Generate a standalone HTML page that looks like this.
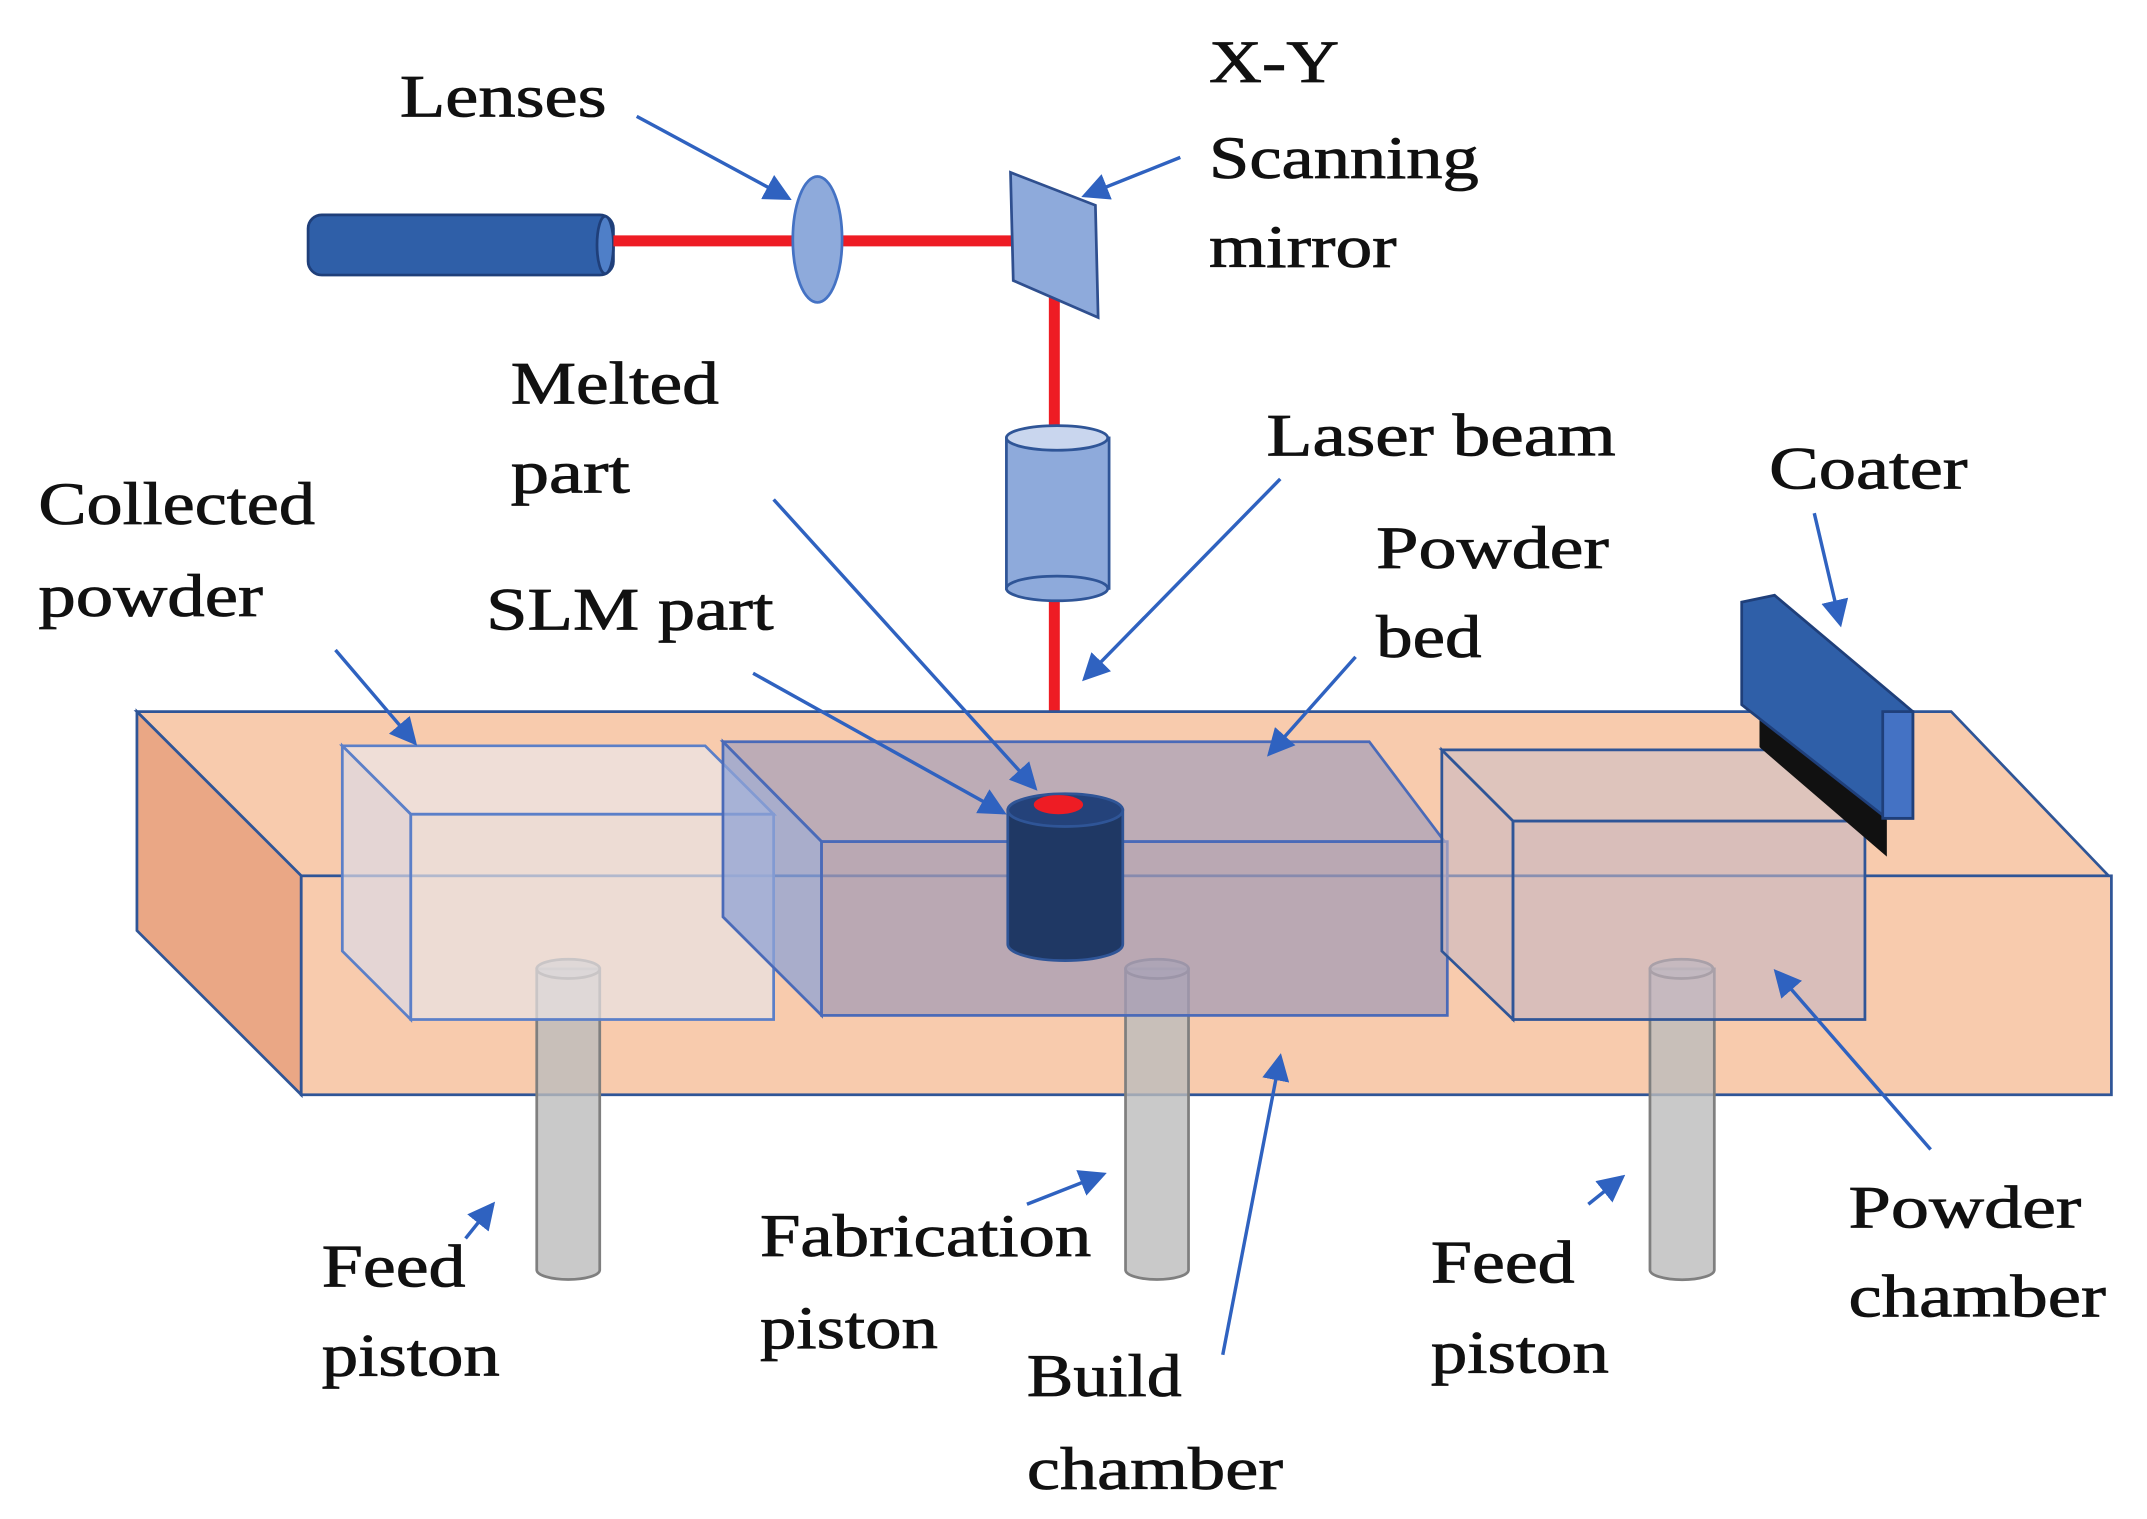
<!DOCTYPE html>
<html><head><meta charset="utf-8"><style>
html,body{margin:0;padding:0;background:#fff;}
svg{display:block;}
text{font-family:"Liberation Serif",serif;font-size:44px;fill:#111;stroke:#111;stroke-width:0.6;}
</style></head><body>
<svg width="2147" height="1519" viewBox="0 0 1568 1110" preserveAspectRatio="none" xmlns="http://www.w3.org/2000/svg">
<defs>
<marker id="ah" markerWidth="8" markerHeight="8" refX="7" refY="4" orient="auto" markerUnits="strokeWidth">
<path d="M0,0 L8,4 L0,8 z" fill="#2f62c0"/></marker>
</defs>
<rect x="225" y="157" width="223" height="44" rx="10" fill="#2f5fa8" stroke="#1f3f7a" stroke-width="2"/>
<ellipse cx="442" cy="179" rx="6" ry="21" fill="#4f7fc8" stroke="#1f3f7a" stroke-width="2"/>
<line x1="448" y1="176" x2="742" y2="176" stroke="#ee1c24" stroke-width="8"/>
<ellipse cx="597" cy="175" rx="18" ry="46" fill="#8eaadb" stroke="#4472c4" stroke-width="2"/>
<line x1="770" y1="176" x2="770" y2="590" stroke="#ee1c24" stroke-width="8"/>
<polygon points="738,126 800,150 802,232 740,205" fill="#8eaadb" stroke="#2f4f8f" stroke-width="2"/>
<rect x="735" y="320" width="75" height="110" fill="#8eaadb" stroke="#2f5597" stroke-width="2"/>
<ellipse cx="772" cy="430" rx="37" ry="9" fill="#8eaadb" stroke="#2f5597" stroke-width="2"/>
<ellipse cx="772" cy="320" rx="37" ry="9" fill="#c9d6ee" stroke="#2f5597" stroke-width="2"/>
<polygon points="100,520 1425,520 1540,640 220,640" fill="#f8cbad" stroke="#2f5597" stroke-width="2"/>
<polygon points="100,520 220,640 220,800 100,680" fill="#eaa785" stroke="#2f5597" stroke-width="2"/>
<rect x="220" y="640" width="1322" height="160" fill="#f8cbad" stroke="#2f5597" stroke-width="2"/>
<g fill="#bcbcbc" fill-opacity="0.8" stroke="#7f7f7f" stroke-width="2">
<path d="M392,708 L392,928 A23,7 0 0 0 438,928 L438,708 z"/><ellipse cx="415" cy="708" rx="23" ry="7"/>
<path d="M822,708 L822,928 A23,7 0 0 0 868,928 L868,708 z"/><ellipse cx="845" cy="708" rx="23" ry="7"/>
<path d="M1205,708 L1205,928 A23,7 0 0 0 1252,928 L1252,708 z"/><ellipse cx="1228" cy="708" rx="23" ry="7"/>
</g>
<g stroke="#5b7fc8" stroke-width="2" fill-opacity="0.7">
<polygon points="250,545 515,545 565,595 300,595" fill="#ebe6e8"/>
<polygon points="250,545 300,595 300,745 250,695" fill="#dcd8e4"/>
<rect x="300" y="595" width="265" height="150" fill="#e8e2e4"/>
</g>
<g stroke="#4a6ab8" stroke-width="2" fill-opacity="0.75">
<polygon points="528,542 1000,542 1055,615 600,615" fill="#aaa2ba"/>
<polygon points="528,542 600,615 600,742 528,670" fill="#8fa3d6"/>
<rect x="600" y="615" width="457" height="127" fill="#a59cb6"/>
</g>
<g stroke="#2f5597" stroke-width="2" fill-opacity="0.6">
<polygon points="1053,548 1310,548 1362,600 1105,600" fill="#cdbfc6"/>
<polygon points="1053,548 1105,600 1105,745 1053,695" fill="#c9b9c3"/>
<rect x="1105" y="600" width="257" height="145" fill="#c4b6c3"/>
</g>
<polygon points="1285,518 1378,598 1378,626 1285,546" fill="#111"/>
<polygon points="1272,440 1296,435 1397,520 1397,598 1378,598 1272,515" fill="#2f5fa8" stroke="#1f3f7a" stroke-width="2"/>
<rect x="1375" y="520" width="22" height="78" fill="#4472c4" stroke="#1f3f7a" stroke-width="2"/>
<path d="M736,592 L736,690 A42,12 0 0 0 820,690 L820,592 z" fill="#1f3864" stroke="#2f5597" stroke-width="2"/>
<ellipse cx="778" cy="592" rx="42" ry="12" fill="#24427a" stroke="#2f5597" stroke-width="2"/>
<ellipse cx="773" cy="588" rx="18" ry="7" fill="#ee1c24"/>
<g stroke="#2f62c0" stroke-width="2.5" marker-end="url(#ah)" fill="none">
<line x1="465" y1="85" x2="576" y2="145"/>
<line x1="862" y1="115" x2="792" y2="143"/>
<line x1="565" y1="365" x2="756" y2="576"/>
<line x1="935" y1="350" x2="792" y2="496"/>
<line x1="1325" y1="375" x2="1344" y2="456"/>
<line x1="245" y1="475" x2="303" y2="543"/>
<line x1="550" y1="492" x2="733" y2="594"/>
<line x1="990" y1="480" x2="927" y2="551"/>
<line x1="340" y1="905" x2="360" y2="880"/>
<line x1="750" y1="880" x2="806" y2="858"/>
<line x1="893" y1="990" x2="935" y2="772"/>
<line x1="1160" y1="880" x2="1185" y2="860"/>
<line x1="1410" y1="840" x2="1297" y2="710"/>
</g>
<g>
<text x="292" y="85" textLength="151" lengthAdjust="spacingAndGlyphs">Lenses</text>
<text x="883" y="60" textLength="95" lengthAdjust="spacingAndGlyphs">X-Y</text>
<text x="883" y="130" textLength="197" lengthAdjust="spacingAndGlyphs">Scanning</text>
<text x="883" y="195" textLength="137" lengthAdjust="spacingAndGlyphs">mirror</text>
<text x="373" y="295" textLength="152" lengthAdjust="spacingAndGlyphs">Melted</text>
<text x="373" y="360" textLength="87" lengthAdjust="spacingAndGlyphs">part</text>
<text x="925" y="333" textLength="255" lengthAdjust="spacingAndGlyphs">Laser beam</text>
<text x="1292" y="357" textLength="145" lengthAdjust="spacingAndGlyphs">Coater</text>
<text x="28" y="383" textLength="202" lengthAdjust="spacingAndGlyphs">Collected</text>
<text x="28" y="450" textLength="164" lengthAdjust="spacingAndGlyphs">powder</text>
<text x="355" y="460" textLength="210" lengthAdjust="spacingAndGlyphs">SLM part</text>
<text x="1005" y="415" textLength="170" lengthAdjust="spacingAndGlyphs">Powder</text>
<text x="1005" y="480" textLength="77" lengthAdjust="spacingAndGlyphs">bed</text>
<text x="235" y="940" textLength="105" lengthAdjust="spacingAndGlyphs">Feed</text>
<text x="235" y="1005" textLength="130" lengthAdjust="spacingAndGlyphs">piston</text>
<text x="555" y="918" textLength="242" lengthAdjust="spacingAndGlyphs">Fabrication</text>
<text x="555" y="985" textLength="130" lengthAdjust="spacingAndGlyphs">piston</text>
<text x="750" y="1020" textLength="113" lengthAdjust="spacingAndGlyphs">Build</text>
<text x="750" y="1088" textLength="187" lengthAdjust="spacingAndGlyphs">chamber</text>
<text x="1045" y="937" textLength="105" lengthAdjust="spacingAndGlyphs">Feed</text>
<text x="1045" y="1003" textLength="130" lengthAdjust="spacingAndGlyphs">piston</text>
<text x="1350" y="897" textLength="170" lengthAdjust="spacingAndGlyphs">Powder</text>
<text x="1350" y="962" textLength="188" lengthAdjust="spacingAndGlyphs">chamber</text>
</g>
</svg>
</body></html>
